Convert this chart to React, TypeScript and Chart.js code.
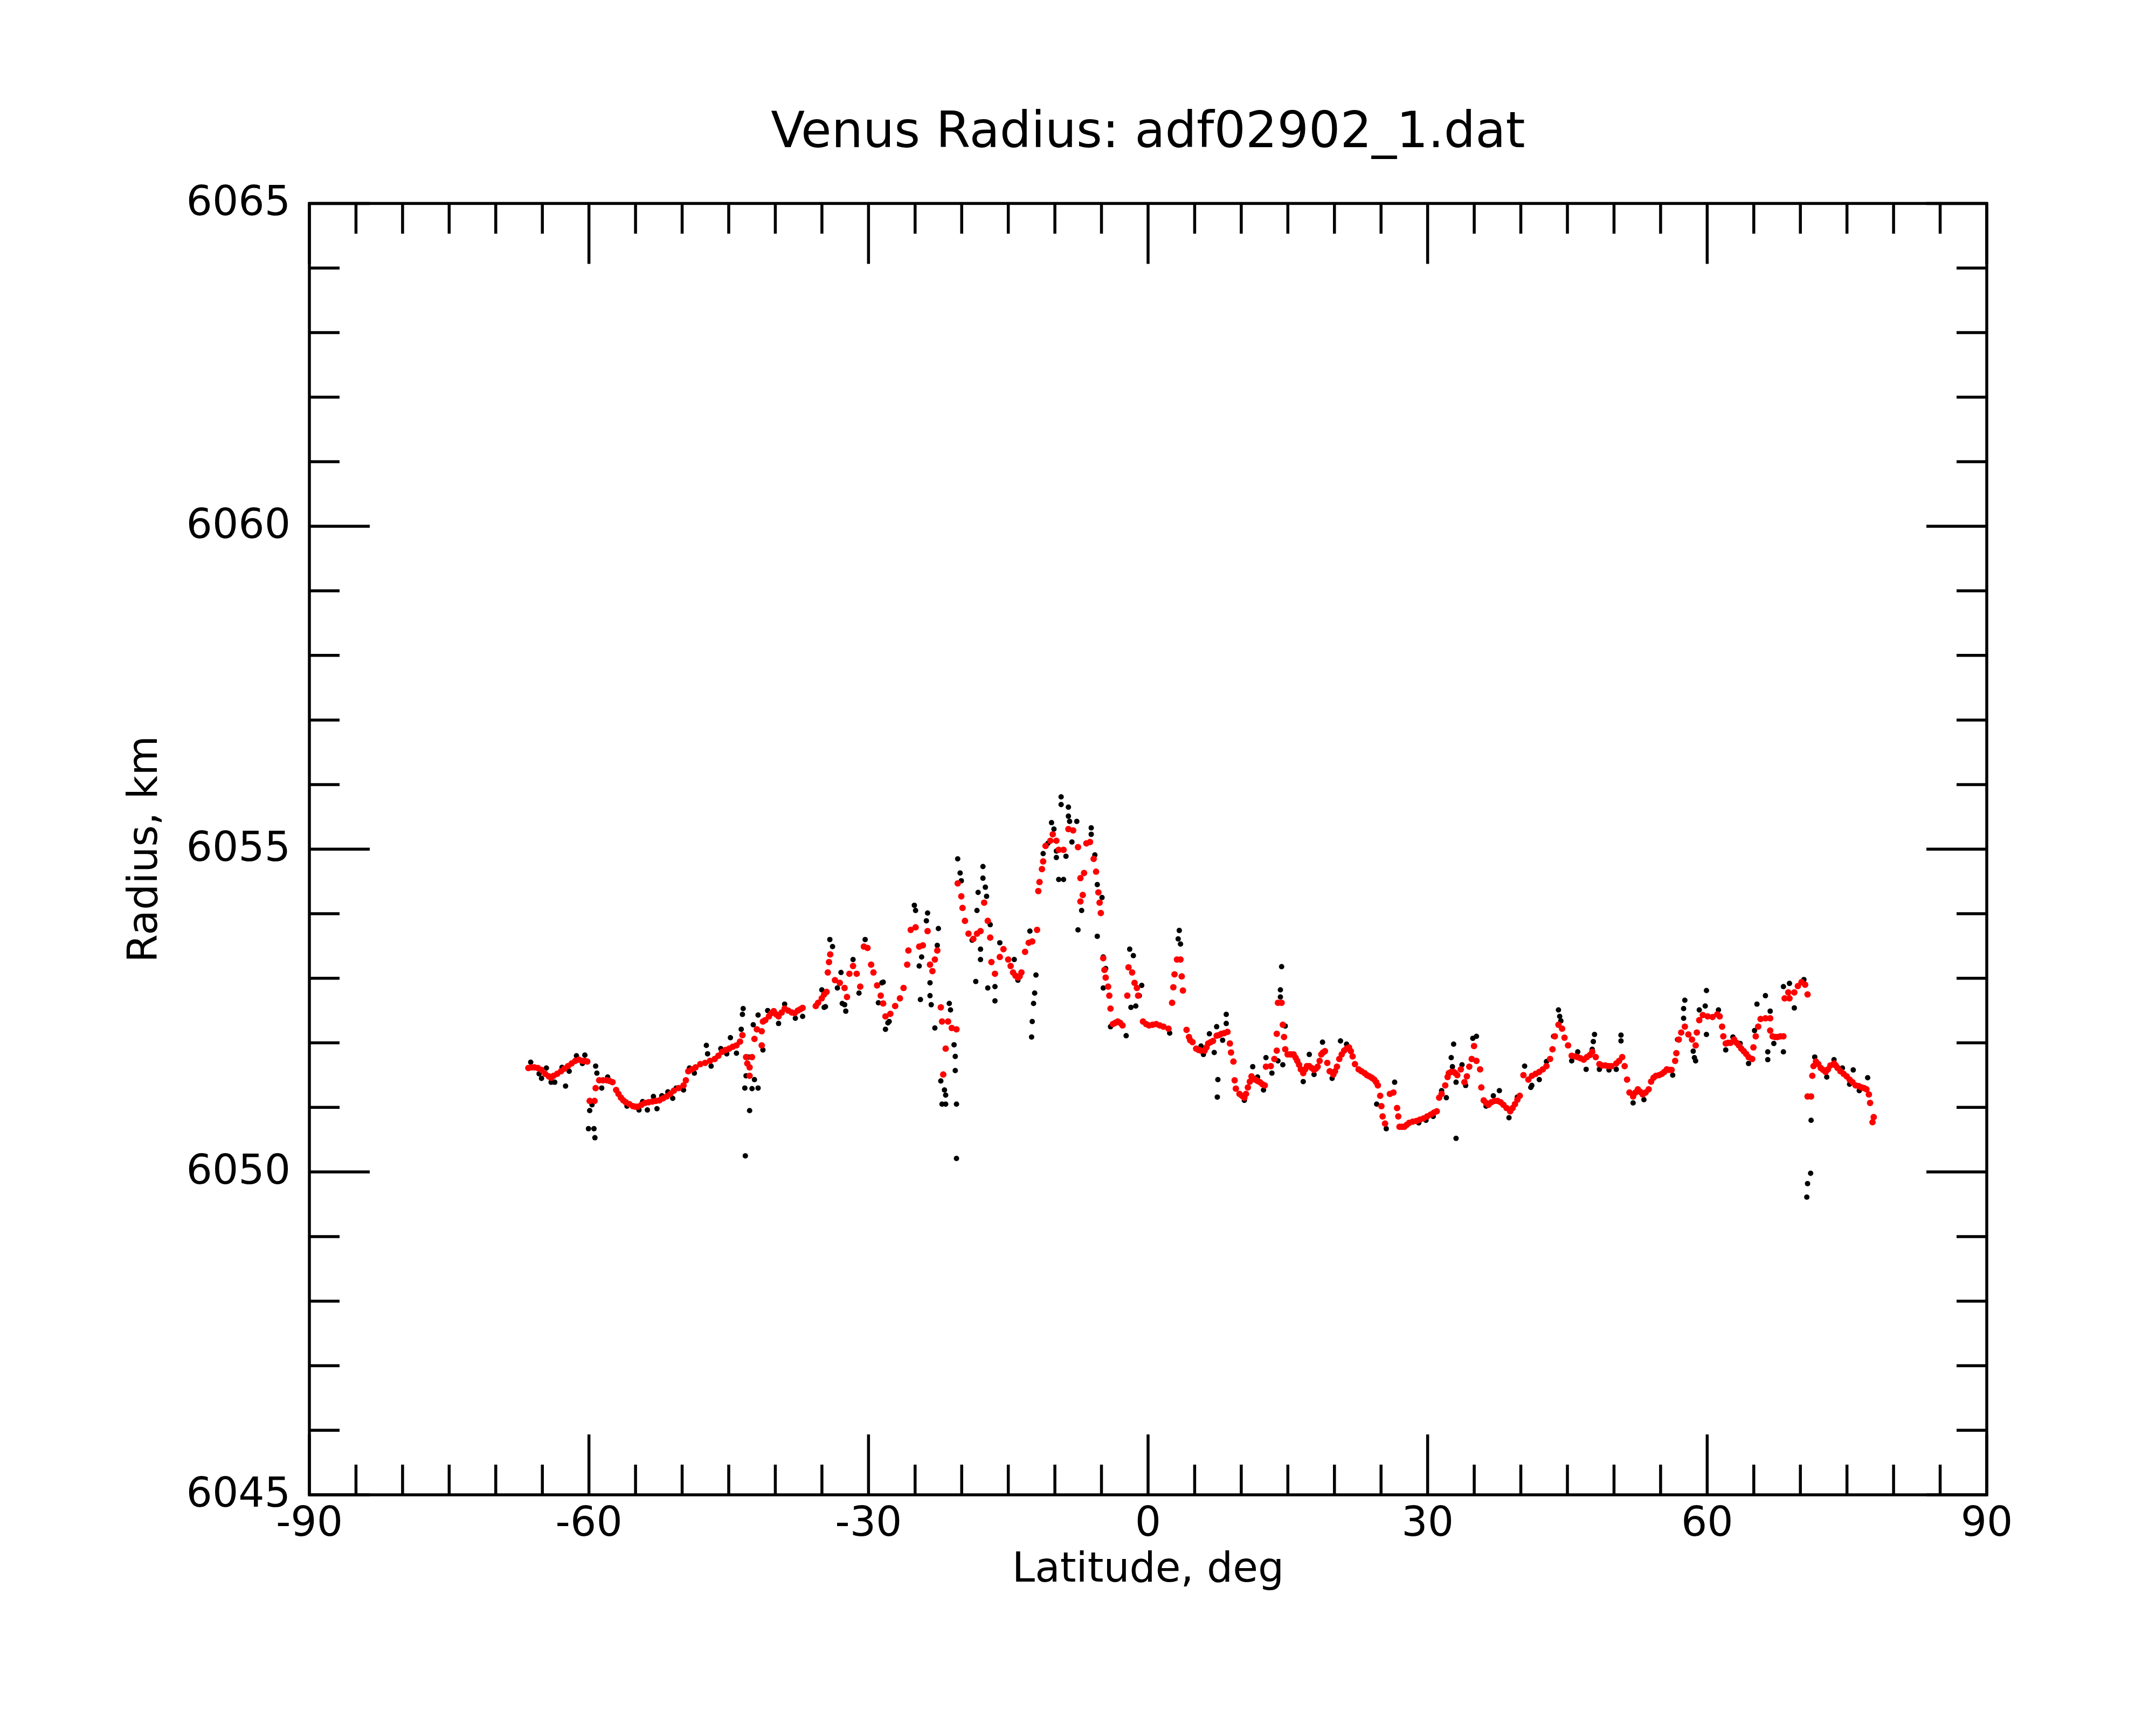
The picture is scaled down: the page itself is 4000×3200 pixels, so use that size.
import { useEffect, useRef } from "react";
import { Chart, registerables } from "chart.js";

Chart.register(...registerables);

// smoothed profile (red)
const redLat = [
  -66.5, -65.86, -65.09, -64.31, -63.8, -63.0, -62.25, -61.47, -60.7, -60.18,
  -59.92, -59.4, -59.28, -58.9, -58.1, -57.47, -57.08, -56.57, -56.05, -55.28,
  -54.76, -53.99, -53.2, -52.44, -51.66, -50.89, -49.85, -49.34, -48.56, -47.53,
  -46.5, -45.72, -44.95, -44.17, -43.79, -43.53, -43.14, -43.01, -42.76, -42.76,
  -42.5, -42.24, -41.98, -41.46, -41.46, -41.33, -40.69, -40.17, -39.65, -39.0,
  -38.23, -37.59, -37.07, -35.66, -35.02, -34.5, -34.37, -34.24, -34.11, -33.6,
  -33.08, -32.57, -32.31, -32.05, -31.66, -31.27, -30.89, -30.5, -30.11, -29.72,
  -29.47, -29.08, -28.69, -28.43, -28.18, -27.66, -27.14, -26.63, -26.24, -25.85,
  -25.72, -25.47, -24.95, -24.56, -24.17, -23.66, -23.4, -23.14, -22.88, -22.62,
  -22.24, -22.11, -21.98, -21.72, -21.46, -21.07, -20.56, -20.43, -20.04, -19.91,
  -19.65, -19.27, -18.75, -18.36, -17.98, -17.59, -17.2, -16.94, -16.81, -16.43,
  -15.91, -15.52, -15.01, -14.49, -13.97, -13.59, -13.2, -12.81, -12.43, -11.91,
  -11.78, -11.65, -11.39, -11.26, -11.0, -10.49, -10.23, -9.84, -9.59, -9.07,
  -8.55, -8.04, -7.52, -7.26, -7.26, -7.01, -6.87, -6.62, -6.23, -5.84,
  -5.58, -5.33, -5.2, -5.07, -4.81, -4.68, -4.55, -4.29, -4.16, -4.03,
  -3.78, -3.26, -2.74, -2.23, -2.1, -1.71, -1.45, -1.2, -1.07, -0.55,
  0.1, 0.87, 1.65, 2.19, 2.58, 2.71, 2.84, 3.1, 3.48, 3.61,
  3.74, 4.13, 4.39, 4.77, 5.16, 5.68, 6.07, 6.45, 6.97, 7.36,
  7.87, 8.52, 8.78, 8.9, 9.16, 9.29, 9.42, 9.81, 10.33, 10.71,
  11.1, 11.49, 12.0, 12.52, 12.65, 13.17, 13.55, 13.81, 13.81, 13.94,
  14.33, 14.46, 14.59, 14.72, 15.23, 15.62, 16.01, 16.39, 16.65, 17.04,
  17.3, 17.81, 18.2, 18.59, 18.98, 19.23, 19.49, 19.88, 20.27, 20.52,
  21.04, 21.56, 21.95, 22.2, 22.59, 23.24, 23.75, 24.27, 24.66, 24.91,
  25.04, 25.17, 25.43, 25.95, 26.33, 26.72, 26.85, 26.98, 27.5, 28.01,
  28.79, 29.56, 30.34, 30.98, 31.24, 31.5, 31.89, 32.27, 32.79, 33.18,
  33.56, 33.95, 34.21, 34.47, 34.73, 34.98, 35.24, 35.63, 35.76, 36.02,
  36.53, 37.18, 37.83, 38.47, 38.86, 39.37, 39.89, 40.28, 40.81, 41.2,
  41.98, 42.75, 43.14, 43.4, 43.65, 44.04, 44.43, 44.69, 45.07, 45.46,
  46.11, 46.75, 47.4, 47.66, 48.04, 48.43, 49.08, 49.72, 50.24, 50.88,
  51.14, 51.4, 51.66, 52.05, 52.56, 53.08, 53.72, 53.98, 54.5, 55.14,
  55.66, 56.18, 56.56, 56.69, 56.95, 57.21, 57.6, 57.98, 58.37, 58.76,
  58.89, 59.15, 59.53, 60.05, 60.57, 61.08, 61.34, 61.6, 61.73, 61.99,
  62.5, 62.89, 63.41, 63.92, 64.44, 64.83, 64.96, 65.21, 65.47, 65.73,
  66.25, 66.76, 66.76, 67.02, 67.54, 68.18, 68.31, 68.7, 68.83, 69.35,
  69.73, 70.12, 70.51, 70.77, 70.77, 71.15, 71.28, 71.41, 71.67, 72.19,
  72.71, 73.22, 73.61, 74.0, 74.64, 75.28, 75.93, 76.57, 77.09, 77.35,
  77.48, 77.74, 77.87,
  // finer readings along the flat stretches
  -66.17, -65.48, -64.7, -64.06, -63.41, -62.64, -61.86, -61.09, -60.44, -58.5,
  -57.78, -56.83, -56.31, -55.66, -55.02, -54.37, -53.6, -52.82, -52.05, -51.27,
  -50.37, -49.6, -48.95, -48.05, -47.01, -46.11, -45.34, -44.56, -41.08, -40.43,
  -39.91, -39.32, -38.62, -37.92, -37.33, -35.41, -34.76, -14.75, -14.23, -13.79,
  -3.52, -3.0, -0.21, 0.48, 1.26, 4.52, 5.42, 6.27, 6.71, 7.61,
  8.18, 10.07, 10.51, 10.92, 11.75, 12.26, 14.97, 15.41, 15.83, 16.21,
  16.86, 17.56, 18.0, 18.41, 18.77, 20.06, 20.78, 21.3, 21.76, 22.9,
  23.49, 24.01, 24.48, 27.24, 27.75, 28.4, 29.17, 29.95, 30.67, 32.14,
  32.53, 32.97, 36.27, 36.84, 37.51, 38.13, 39.12, 39.63, 41.59, 42.36,
  45.85, 46.42, 47.09, 48.74, 49.41, 50.55, 52.3, 52.82, 53.39, 54.24,
  54.83, 55.4, 55.92, 62.24, 63.15, 63.66, 64.18, 67.28, 67.85, 71.93,
  72.44, 72.96, 73.79, 74.3, 74.97, 75.59, 76.26, 76.83,
];
const redRadius = [
  6051.61, 6051.62, 6051.58, 6051.48, 6051.49, 6051.56, 6051.64, 6051.72, 6051.72, 6051.71,
  6051.10, 6051.10, 6051.30, 6051.42, 6051.42, 6051.39, 6051.27, 6051.15, 6051.08, 6051.02,
  6051.01, 6051.07, 6051.09, 6051.11, 6051.17, 6051.26, 6051.34, 6051.56, 6051.62, 6051.69,
  6051.75, 6051.86, 6051.91, 6051.96, 6052.02, 6052.12, 6051.78, 6051.68, 6051.62, 6051.49,
  6051.78, 6052.06, 6052.21, 6052.18, 6051.96, 6052.33, 6052.41, 6052.49, 6052.41, 6052.53,
  6052.47, 6052.50, 6052.54, 6052.57, 6052.69, 6052.79, 6053.09, 6053.25, 6053.37, 6052.97,
  6052.93, 6052.85, 6052.71, 6053.07, 6053.19, 6053.07, 6052.87, 6053.49, 6053.47, 6053.21,
  6053.09, 6052.89, 6052.73, 6052.61, 6052.41, 6052.45, 6052.57, 6052.69, 6052.85, 6053.21,
  6053.43, 6053.75, 6053.79, 6053.49, 6053.51, 6053.73, 6053.21, 6053.11, 6053.29, 6053.43,
  6052.55, 6052.33, 6051.51, 6051.91, 6052.33, 6052.23, 6052.21, 6054.47, 6054.27, 6054.09,
  6053.89, 6053.69, 6053.61, 6053.69, 6053.73, 6054.17, 6053.89, 6053.63, 6053.25, 6053.07,
  6053.33, 6053.45, 6053.29, 6053.09, 6053.01, 6053.09, 6053.41, 6053.55, 6053.57, 6053.75,
  6054.35, 6054.49, 6054.69, 6054.81, 6055.05, 6055.13, 6055.23, 6055.13, 6054.99, 6054.99,
  6055.31, 6055.29, 6055.03, 6054.55, 6054.19, 6054.29, 6054.63, 6055.09, 6055.11, 6054.85,
  6054.65, 6054.33, 6054.17, 6054.01, 6053.31, 6053.13, 6053.01, 6052.87, 6052.73, 6052.53,
  6052.29, 6052.33, 6052.27, 6052.73, 6053.17, 6053.09, 6052.93, 6052.85, 6052.73, 6052.33,
  6052.27, 6052.29, 6052.25, 6052.22, 6052.62, 6052.86, 6053.06, 6053.29, 6053.29, 6053.03,
  6052.81, 6052.20, 6052.09, 6052.01, 6051.91, 6051.88, 6051.88, 6051.99, 6052.03, 6052.11,
  6052.14, 6052.17, 6051.99, 6051.85, 6051.71, 6051.42, 6051.29, 6051.21, 6051.15, 6051.31,
  6051.48, 6051.43, 6051.39, 6051.34, 6051.63, 6051.64, 6051.75, 6051.88, 6052.14, 6052.62,
  6052.62, 6052.28, 6052.09, 6051.90, 6051.82, 6051.82, 6051.72, 6051.59, 6051.53, 6051.64,
  6051.64, 6051.58, 6051.63, 6051.82, 6051.87, 6051.69, 6051.56, 6051.51, 6051.63, 6051.75,
  6051.88, 6051.93, 6051.79, 6051.67, 6051.59, 6051.53, 6051.48, 6051.43, 6051.34, 6051.18,
  6051.02, 6050.86, 6050.75, 6051.21, 6051.23, 6050.99, 6050.86, 6050.70, 6050.70, 6050.76,
  6050.79, 6050.83, 6050.89, 6050.94, 6051.15, 6051.21, 6051.34, 6051.53, 6051.55, 6051.50,
  6051.59, 6051.39, 6051.48, 6051.63, 6051.75, 6051.95, 6051.72, 6051.59, 6051.31, 6051.11,
  6051.04, 6051.10, 6051.08, 6050.99, 6050.94, 6051.05, 6051.18, 6051.50, 6051.43, 6051.49,
  6051.55, 6051.64, 6051.75, 6051.90, 6052.10, 6052.28, 6052.22, 6052.08, 6051.96, 6051.80,
  6051.78, 6051.74, 6051.81, 6051.86, 6051.78, 6051.67, 6051.65, 6051.64, 6051.68, 6051.78,
  6051.64, 6051.43, 6051.23, 6051.17, 6051.28, 6051.20, 6051.28, 6051.40, 6051.49, 6051.52,
  6051.59, 6051.58, 6051.72, 6051.84, 6052.05, 6052.16, 6052.25, 6052.13, 6052.05, 6051.96,
  6052.16, 6052.35, 6052.43, 6052.41, 6052.40, 6052.44, 6052.41, 6052.25, 6052.10, 6051.99,
  6052.00, 6052.05, 6051.96, 6051.87, 6051.78, 6051.75, 6051.93, 6052.10, 6052.25, 6052.37,
  6052.38, 6052.38, 6052.19, 6052.10, 6052.09, 6052.10, 6052.69, 6052.78, 6052.69, 6052.78,
  6052.88, 6052.94, 6052.90, 6052.75, 6051.17, 6051.17, 6051.49, 6051.64, 6051.71, 6051.61,
  6051.55, 6051.65, 6051.68, 6051.61, 6051.52, 6051.43, 6051.34, 6051.31, 6051.28, 6051.20,
  6051.07, 6050.77, 6050.85,
  // finer readings along the flat stretches
  6051.62, 6051.61, 6051.52, 6051.46, 6051.52, 6051.60, 6051.68, 6051.74, 6051.72, 6051.42,
  6051.41, 6051.21, 6051.11, 6051.05, 6051.01, 6051.04, 6051.08, 6051.10, 6051.14, 6051.21,
  6051.30, 6051.42, 6051.59, 6051.67, 6051.72, 6051.80, 6051.89, 6051.94, 6052.35, 6052.46,
  6052.44, 6052.47, 6052.50, 6052.46, 6052.52, 6052.62, 6052.75, 6053.19, 6053.04, 6053.03,
  6052.31, 6052.31, 6052.29, 6052.28, 6052.27, 6052.04, 6051.89, 6051.93, 6052.01, 6052.12,
  6052.15, 6051.18, 6051.21, 6051.40, 6051.41, 6051.36, 6051.82, 6051.82, 6051.77, 6051.66,
  6051.59, 6051.61, 6051.60, 6051.72, 6051.85, 6051.56, 6051.82, 6051.91, 6051.87, 6051.56,
  6051.50, 6051.46, 6051.39, 6050.70, 6050.73, 6050.78, 6050.81, 6050.86, 6050.92, 6051.47,
  6051.55, 6051.53, 6051.07, 6051.08, 6051.10, 6051.04, 6050.99, 6051.12, 6051.52, 6051.59,
  6051.79, 6051.76, 6051.78, 6051.65, 6051.64, 6051.72, 6051.23, 6051.24, 6051.23, 6051.46,
  6051.50, 6051.55, 6051.58, 6052.00, 6052.00, 6051.91, 6051.83, 6052.09, 6052.10, 6051.67,
  6051.58, 6051.59, 6051.65, 6051.56, 6051.48, 6051.39, 6051.33, 6051.30,
];

// raw measurements (black)
const blackLat = [
  -66.25, -65.35, -65.09, -64.57, -64.06, -63.67, -62.89, -62.51, -62.12, -61.34,
  -60.7, -60.44, -60.05, -59.92, -59.67, -59.46, -59.36, -59.28, -59.15, -58.63,
  -57.99, -55.92, -54.63, -54.24, -53.73, -53.08, -52.7, -52.18, -51.53, -51.01,
  -50.63, -49.85, -49.21, -48.69, -47.4, -47.27, -46.89, -45.85, -45.21, -44.82,
  -44.17, -43.66, -43.53, -43.45, -43.27, -43.22, -43.14, -42.88, -42.76, -42.5,
  -42.37, -42.24, -41.85, -41.85, -41.33, -40.82, -39.65, -39.0, -37.85, -37.07,
  -35.01, -34.76, -34.62, -34.15, -33.86, -33.34, -32.95, -32.82, -32.56, -32.44,
  -31.66, -31.02, -30.36, -28.94, -28.56, -28.42, -28.18, -27.92, -27.78, -25.08,
  -24.95, -24.56, -24.43, -24.3, -23.79, -23.66, -23.4, -23.4, -23.27, -22.88,
  -22.62, -22.5, -22.24, -22.11, -21.85, -21.72, -21.72, -21.33, -21.2, -20.82,
  -20.69, -20.69, -20.56, -20.56, -20.43, -20.17, -20.04, -18.88, -18.49, -18.36,
  -18.24, -17.98, -17.98, -17.72, -17.72, -17.46, -17.33, -17.2, -16.94, -16.43,
  -16.43, -15.91, -14.36, -13.97, -12.68, -12.5, -12.43, -12.29, -12.17, -12.03,
  -11.26, -10.75, -10.36, -10.1, -9.84, -9.84, -9.59, -9.33, -9.33, -9.07,
  -8.81, -8.55, -8.55, -8.42, -8.17, -7.65, -7.52, -7.13, -6.1, -6.1,
  -5.71, -5.45, -5.45, -4.94, -4.81, -4.81, -4.55, -4.03, -2.35, -1.97,
  -1.84, -1.58, -1.32, -0.94, -0.68, 2.32, 3.23, 3.35, 3.48, 5.68,
  5.94, 6.58, 7.1, 7.36, 7.43, 7.49, 8.0, 8.39, 8.39, 10.33,
  11.23, 11.75, 12.39, 12.65, 13.29, 13.94, 14.2, 14.2, 14.33, 14.46,
  14.72, 16.65, 17.3, 17.81, 18.72, 19.75, 20.65, 21.3, 24.01, 24.53,
  25.56, 26.46, 29.05, 29.82, 30.6, 31.5, 32.01, 32.53, 32.66, 32.79,
  33.05, 33.05, 33.69, 34.08, 34.85, 35.24, 36.27, 37.05, 37.7, 38.73,
  39.63, 40.41, 41.07, 41.18, 41.98, 42.75, 43.52, 44.04, 44.17, 44.3,
  45.46, 46.11, 47.01, 47.66, 47.78, 47.91, 48.43, 49.46, 50.24, 50.75,
  50.75, 52.05, 53.21, 56.3, 56.82, 57.47, 57.47, 57.6, 58.5, 58.63,
  58.76, 59.15, 59.79, 59.92, 59.92, 61.21, 61.99, 62.76, 63.54, 64.44,
  65.08, 65.34, 66.25, 66.5, 66.5, 66.76, 67.15, 68.18, 68.18, 68.83,
  69.35, 70.38, 70.69, 70.77, 71.1, 71.15, 71.54, 72.83, 73.61, 74.51,
  75.28, 75.67, 76.32, 77.22,
];
const blackRadius = [
  6051.70, 6051.52, 6051.45, 6051.61, 6051.39, 6051.39, 6051.62, 6051.33, 6051.56, 6051.80,
  6051.68, 6051.81, 6050.67, 6050.95, 6051.04, 6050.67, 6050.53, 6051.64, 6051.53, 6051.30,
  6051.47, 6051.02, 6050.96, 6051.09, 6050.96, 6051.17, 6050.98, 6051.18, 6051.24, 6051.14,
  6051.30, 6051.27, 6051.61, 6051.53, 6051.96, 6051.83, 6051.64, 6051.91, 6051.83, 6052.08,
  6051.84, 6052.21, 6052.44, 6052.53, 6051.30, 6050.25, 6051.49, 6051.78, 6050.95, 6051.29,
  6052.28, 6051.43, 6051.30, 6052.43, 6051.89, 6052.50, 6052.30, 6052.60, 6052.38, 6052.41,
  6052.82, 6052.55, 6052.56, 6053.60, 6053.49, 6052.85, 6053.09, 6052.61, 6052.59, 6052.49,
  6053.29, 6052.77, 6053.60, 6052.62, 6052.93, 6052.94, 6052.21, 6052.31, 6052.33, 6054.13,
  6054.05, 6053.19, 6052.67, 6053.33, 6053.89, 6054.01, 6052.93, 6052.73, 6052.59, 6052.23,
  6053.51, 6053.77, 6051.41, 6051.05, 6051.27, 6051.19, 6051.05, 6052.61, 6052.51, 6051.97,
  6051.79, 6051.57, 6051.05, 6050.21, 6054.85, 6054.63, 6054.51, 6053.59, 6052.95, 6054.05,
  6054.33, 6053.45, 6053.29, 6054.73, 6054.55, 6054.41, 6054.27, 6052.85, 6053.83, 6052.87,
  6052.65, 6053.55, 6053.29, 6052.97, 6053.73, 6052.09, 6052.33, 6052.61, 6052.77, 6053.05,
  6054.93, 6055.09, 6055.41, 6055.31, 6054.97, 6054.87, 6054.53, 6055.81, 6055.69, 6054.53,
  6054.89, 6055.65, 6055.51, 6055.43, 6055.11, 6055.43, 6053.75, 6054.05, 6055.33, 6055.23,
  6054.91, 6054.45, 6053.65, 6054.25, 6053.33, 6052.85, 6053.15, 6052.25, 6052.11, 6053.45,
  6052.55, 6053.35, 6052.57, 6052.73, 6052.89, 6052.15, 6053.61, 6053.74, 6053.53, 6051.95,
  6051.82, 6052.14, 6051.85, 6052.25, 6051.16, 6051.43, 6052.04, 6052.44, 6052.30, 6051.11,
  6051.63, 6051.47, 6051.27, 6051.77, 6051.53, 6051.72, 6052.82, 6052.71, 6053.18, 6051.66,
  6052.26, 6051.40, 6051.82, 6051.51, 6052.01, 6051.45, 6052.03, 6051.98, 6051.45, 6051.05,
  6050.67, 6051.39, 6050.76, 6050.80, 6050.86, 6051.26, 6051.15, 6051.77, 6051.63, 6051.98,
  6051.39, 6050.52, 6051.66, 6051.34, 6052.07, 6052.10, 6051.02, 6051.18, 6051.26, 6050.84,
  6051.16, 6051.64, 6051.31, 6051.34, 6051.43, 6051.71, 6052.10, 6052.51, 6052.41, 6052.34,
  6051.72, 6051.86, 6051.59, 6051.90, 6052.02, 6052.13, 6051.59, 6051.58, 6051.59, 6052.03,
  6052.12, 6051.07, 6051.12, 6051.50, 6052.05, 6052.38, 6052.53, 6052.66, 6051.87, 6051.77,
  6051.72, 6052.51, 6052.57, 6052.81, 6052.13, 6052.51, 6051.89, 6052.09, 6051.99, 6051.68,
  6052.19, 6052.60, 6052.73, 6051.86, 6051.74, 6052.49, 6051.99, 6051.86, 6052.87, 6052.92,
  6052.54, 6052.98, 6049.61, 6049.82, 6049.98, 6050.80, 6051.78, 6051.47, 6051.74, 6051.61,
  6051.36, 6051.58, 6051.26, 6051.46,
];

// axes
const xTickLabels = [-90, -60, -30, 0, 30, 60, 90];
const xTickMarks = [
  -90, -85, -80, -75, -70, -65, -60, -55, -50, -45, -40, -35, -30, -25, -20, -15, -10, -5,
  0, 5, 10, 15, 20, 25, 30, 35, 40, 45, 50, 55, 60, 65, 70, 75, 80, 85, 90,
];
const yTickLabels = [6045, 6050, 6055, 6060, 6065];
const yTickMarks = [
  6045, 6046, 6047, 6048, 6049, 6050, 6051, 6052, 6053, 6054, 6055,
  6056, 6057, 6058, 6059, 6060, 6061, 6062, 6063, 6064, 6065,
];

const FONT = "'DejaVu Sans', 'Liberation Sans', sans-serif";
const MAJOR_LEN = 112;
const MINOR_LEN = 56;

const frameTicks = {
  id: "frameTicks",
  beforeDraw(chart: Chart) {
    const { ctx, width, height } = chart;
    ctx.save();
    ctx.fillStyle = "#ffffff";
    ctx.fillRect(0, 0, width, height);
    ctx.restore();
  },
  afterDraw(chart: Chart) {
    const { ctx, chartArea, scales } = chart;
    const { left, right, top, bottom } = chartArea;
    ctx.save();
    ctx.strokeStyle = "#000000";
    ctx.lineWidth = 5.5;
    ctx.lineCap = "butt";
    ctx.beginPath();
    xTickMarks.forEach((v) => {
      const px = scales.x.getPixelForValue(v);
      const len = xTickLabels.includes(v) ? MAJOR_LEN : MINOR_LEN;
      ctx.moveTo(px, bottom);
      ctx.lineTo(px, bottom - len);
      ctx.moveTo(px, top);
      ctx.lineTo(px, top + len);
    });
    yTickMarks.forEach((v) => {
      const py = scales.y.getPixelForValue(v);
      const len = yTickLabels.includes(v) ? MAJOR_LEN : MINOR_LEN;
      ctx.moveTo(left, py);
      ctx.lineTo(left + len, py);
      ctx.moveTo(right, py);
      ctx.lineTo(right - len, py);
    });
    ctx.stroke();
    ctx.strokeRect(left, top, right - left, bottom - top);
    ctx.restore();
  },
};

export default function App() {
  const chartRef = useRef<HTMLCanvasElement>(null);
  const chartInstance = useRef<Chart | null>(null);

  useEffect(() => {
    if (!chartRef.current) return;
    if (chartInstance.current) chartInstance.current.destroy();

    const ctx = chartRef.current.getContext("2d");
    if (!ctx) return;

    chartInstance.current = new Chart(ctx, {
      type: "scatter",
      data: {
        datasets: [
          {
            label: "smoothed",
            data: redLat.map((lat, i) => ({ x: lat, y: redRadius[i] })),
            backgroundColor: "rgb(255, 0, 0)",
            borderWidth: 0,
            pointRadius: 6,
            order: 1,
          },
          {
            label: "raw",
            data: blackLat.map((lat, i) => ({ x: lat, y: blackRadius[i] })),
            backgroundColor: "#000000",
            borderWidth: 0,
            pointRadius: 5,
            order: 2,
          },
        ],
      },
      options: {
        animation: false,
        responsive: true,
        maintainAspectRatio: false,
        devicePixelRatio: 1,
        events: [],
        layout: {
          padding: { left: 226, right: 314, top: 100, bottom: 240 },
        },
        plugins: {
          legend: { display: false },
          tooltip: { enabled: false },
          title: {
            display: true,
            fullSize: false,
            text: "Venus Radius: adf02902_1.dat",
            color: "#000000",
            font: { family: FONT, size: 92, weight: "normal" },
            padding: { top: 94, bottom: 73 },
          },
        },
        scales: {
          x: {
            type: "linear",
            min: -90,
            max: 90,
            afterBuildTicks: (scale) => {
              scale.ticks = xTickLabels.map((v) => ({ value: v }));
            },
            afterFit: (scale) => {
              scale.height = 187;
            },
            grid: { display: false, drawTicks: false },
            border: { display: false },
            ticks: {
              autoSkip: false,
              maxRotation: 0,
              padding: 11,
              color: "#000000",
              font: { family: FONT, size: 76 },
              callback: (v) => String(v),
            },
            title: {
              display: true,
              text: "Latitude, deg",
              color: "#000000",
              font: { family: FONT, size: 76 },
              padding: 0,
            },
          },
          y: {
            type: "linear",
            min: 6045,
            max: 6065,
            afterBuildTicks: (scale) => {
              scale.ticks = yTickLabels.map((v) => ({ value: v }));
            },
            afterFit: (scale) => {
              scale.width = 574 - 226;
            },
            grid: { display: false, drawTicks: false },
            border: { display: false },
            ticks: {
              autoSkip: false,
              padding: 35,
              labelOffset: 2,
              color: "#000000",
              font: { family: FONT, size: 76 },
              callback: (v) => String(v),
            },
            title: {
              display: true,
              text: "Radius, km",
              color: "#000000",
              font: { family: FONT, size: 76 },
              padding: 0,
            },
          },
        },
      },
      plugins: [frameTicks],
    });

    return () => {
      if (chartInstance.current) {
        chartInstance.current.destroy();
        chartInstance.current = null;
      }
    };
  }, []);

  return (
    <div style={{ position: "absolute", left: 0, top: 0, width: 4000, height: 3200, background: "#ffffff" }}>
      <canvas ref={chartRef} />
    </div>
  );
}
